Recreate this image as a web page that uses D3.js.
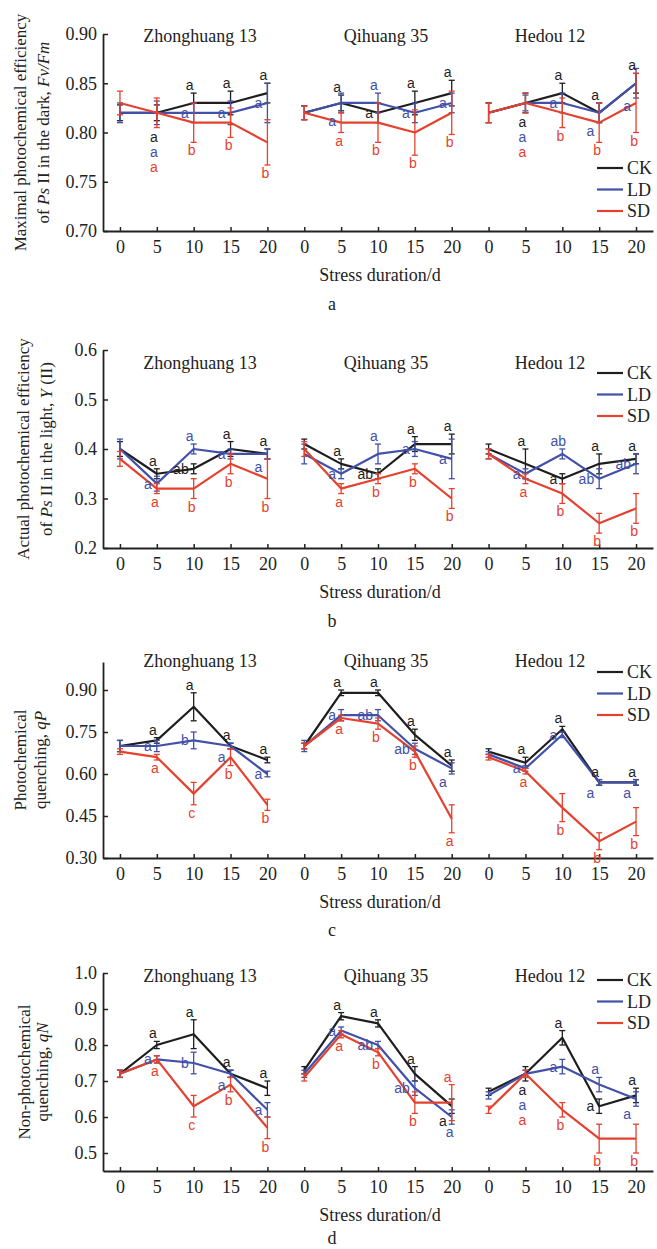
<!DOCTYPE html>
<html>
<head>
<meta charset="utf-8">
<script src="https://cdn.jsdelivr.net/npm/d3@7"></script>
<style>
  body { margin: 0; background: #fff; }
  svg { display: block; }
</style>
</head>
<body>
<div id="chart"></div>
<script>
// ── Categories ──────────────────────────────────
const DAYS = [0, 5, 10, 15, 20];
const VARIETIES = ["Zhonghuang 13", "Qihuang 35", "Hedou 12"];
const TREATMENTS = ["CK", "LD", "SD"];
const PANEL_TAGS = ["a", "b", "c", "d"];

// ── Panel a: Fv/Fm (Zhonghuang | Qihuang | Hedou, 5 days each) ──
const FVFM_CK = [0.82,0.82,0.83,0.83,0.84, 0.82,0.83,0.82,0.83,0.84, 0.82,0.83,0.84,0.82,0.85];
const FVFM_LD = [0.82,0.82,0.82,0.82,0.83, 0.82,0.83,0.83,0.82,0.83, 0.82,0.83,0.83,0.82,0.85];
const FVFM_SD = [0.83,0.82,0.81,0.81,0.79, 0.82,0.81,0.81,0.80,0.82, 0.82,0.83,0.82,0.81,0.83];
const FVFM_CK_ERR = [0.008,0.008,0.01,0.012,0.01, 0.007,0.008,0.01,0.012,0.013, 0.01,0.01,0.01,0.01,0.01];
const FVFM_LD_ERR = [0.01,0.012,0.01,0.012,0.02, 0.007,0.01,0.01,0.01,0.01, 0.01,0.008,0.01,0.01,0.015];
const FVFM_SD_ERR = [0.012,0.015,0.02,0.015,0.023, 0.007,0.01,0.02,0.023,0.022, 0.01,0.01,0.015,0.02,0.03];
const FVFM_CK_SIG = ["","a","a","a","a", "","a","a","a","a", "","a","a","a","a"];
const FVFM_LD_SIG = ["","a","a","a","a", "","a","a","a","a", "","a","a","a","a"];
const FVFM_SD_SIG = ["","a","b","b","b", "","a","b","b","b", "","a","b","b","b"];
const FVFM_DOMAIN = [0.70, 0.90];
const FVFM_TICKS = [0.70, 0.75, 0.80, 0.85, 0.90];

// ── Panel b: Y(II) ──────────────────────────────
const YII_CK = [0.40,0.35,0.36,0.40,0.39, 0.41,0.37,0.35,0.41,0.41, 0.40,0.37,0.34,0.37,0.38];
const YII_LD = [0.40,0.33,0.40,0.39,0.39, 0.39,0.35,0.39,0.40,0.38, 0.39,0.35,0.39,0.34,0.37];
const YII_SD = [0.38,0.32,0.32,0.37,0.34, 0.40,0.32,0.34,0.36,0.30, 0.39,0.34,0.31,0.25,0.28];
const YII_CK_ERR = [0.015,0.01,0.01,0.015,0.01, 0.01,0.01,0.01,0.015,0.02, 0.01,0.03,0.01,0.02,0.01];
const YII_LD_ERR = [0.02,0.015,0.01,0.01,0.01, 0.02,0.01,0.02,0.015,0.04, 0.01,0.01,0.01,0.02,0.02];
const YII_SD_ERR = [0.015,0.01,0.02,0.02,0.04, 0.015,0.01,0.01,0.01,0.02, 0.01,0.01,0.02,0.02,0.03];
const YII_CK_SIG = ["","a","ab","a","a", "","a","ab","a","a", "","a","a","a","a"];
const YII_LD_SIG = ["","a","a","a","a", "","a","a","a","a", "","a","ab","ab","ab"];
const YII_SD_SIG = ["","a","b","b","b", "","a","b","b","b", "","a","b","b","b"];
const YII_DOMAIN = [0.2, 0.6];
const YII_TICKS = [0.2, 0.3, 0.4, 0.5, 0.6];

// ── Panel c: qP ─────────────────────────────────
const QP_CK = [0.70,0.72,0.84,0.70,0.65, 0.70,0.89,0.89,0.74,0.63, 0.68,0.64,0.76,0.57,0.57];
const QP_LD = [0.70,0.70,0.72,0.70,0.60, 0.70,0.81,0.81,0.69,0.62, 0.67,0.62,0.74,0.57,0.57];
const QP_SD = [0.68,0.66,0.53,0.66,0.49, 0.70,0.80,0.78,0.68,0.44, 0.66,0.61,0.48,0.36,0.43];
const QP_CK_ERR = [0.02,0.01,0.05,0.01,0.01, 0.01,0.01,0.01,0.02,0.02, 0.01,0.02,0.01,0.01,0.01];
const QP_LD_ERR = [0.02,0.02,0.03,0.01,0.01, 0.02,0.02,0.02,0.02,0.02, 0.01,0.01,0.01,0.01,0.01];
const QP_SD_ERR = [0.01,0.01,0.04,0.03,0.02, 0.01,0.01,0.02,0.02,0.05, 0.01,0.01,0.05,0.03,0.05];
const QP_CK_SIG = ["","a","a","a","a", "","a","a","a","a", "","a","a","a","a"];
const QP_LD_SIG = ["","a","b","a","a", "","a","ab","ab","a", "","a","a","a","a"];
const QP_SD_SIG = ["","a","c","b","b", "","a","b","b","a", "","a","b","b","b"];
const QP_DOMAIN = [0.30, 1.0];
const QP_TICKS = [0.30, 0.45, 0.60, 0.75, 0.90];

// ── Panel d: qN ─────────────────────────────────
const QN_CK = [0.72,0.80,0.83,0.72,0.68, 0.73,0.88,0.86,0.72,0.63, 0.67,0.72,0.82,0.63,0.66];
const QN_LD = [0.72,0.76,0.75,0.72,0.62, 0.72,0.84,0.80,0.68,0.60, 0.66,0.72,0.74,0.69,0.65];
const QN_SD = [0.72,0.76,0.63,0.69,0.57, 0.71,0.83,0.78,0.64,0.64, 0.62,0.72,0.62,0.54,0.54];
const QN_CK_ERR = [0.01,0.01,0.04,0.01,0.02, 0.01,0.01,0.01,0.02,0.02, 0.01,0.02,0.02,0.02,0.02];
const QN_LD_ERR = [0.01,0.01,0.03,0.01,0.02, 0.01,0.01,0.01,0.02,0.02, 0.01,0.01,0.02,0.02,0.02];
const QN_SD_ERR = [0.01,0.01,0.03,0.02,0.03, 0.01,0.01,0.01,0.03,0.05, 0.01,0.01,0.02,0.04,0.04];
const QN_CK_SIG = ["","a","a","a","a", "","a","a","a","a", "","a","a","a","a"];
const QN_LD_SIG = ["","a","b","a","a", "","a","ab","ab","a", "","a","a","a","a"];
const QN_SD_SIG = ["","a","c","b","b", "","a","b","b","a", "","a","b","b","b"];
const QN_DOMAIN = [0.45, 1.0];
const QN_TICKS = [0.5, 0.6, 0.7, 0.8, 0.9, 1.0];

// ── Axis titles (segments: [text, italic]) ──────
const FVFM_YLABEL = [[["Maximal photochemical efficiency", false]],
                     [["of ", false], ["Ps", true], [" II in the dark, ", false], ["Fv/Fm", true]]];
const YII_YLABEL  = [[["Actual photochemical efficiency", false]],
                     [["of ", false], ["Ps", true], [" II in the light, ", false], ["Y", true], [" (II)", false]]];
const QP_YLABEL   = [[["Photochemical", false]], [["quenching, ", false], ["qP", true]]];
const QN_YLABEL   = [[["Non-photochemical", false]], [["quenching, ", false], ["qN", true]]];
const X_TITLE = "Stress duration/d";

// ── Layout / style ──────────────────────────────
const W = 657, H = 1249;
const SERIF = "'Times New Roman', 'Liberation Serif', serif";
const SANS = "Arial, 'Liberation Sans', sans-serif";
const COLOR = d3.scaleOrdinal().domain(TREATMENTS).range(["#1e1e1e", "#4150a8", "#e4412e"]);
const TITLE_X = [200, 386, 550];

const PANELS = [
  { v: [FVFM_CK, FVFM_LD, FVFM_SD], e: [FVFM_CK_ERR, FVFM_LD_ERR, FVFM_SD_ERR], s: [FVFM_CK_SIG, FVFM_LD_SIG, FVFM_SD_SIG],
    domain: FVFM_DOMAIN, ticks: FVFM_TICKS, fmt: ".2f", ylabel: FVFM_YLABEL,
    top: 34, bottom: 231, titleY: 42, legendY: 168, ylabX: [20, 43], tagY: 310 },
  { v: [YII_CK, YII_LD, YII_SD], e: [YII_CK_ERR, YII_LD_ERR, YII_SD_ERR], s: [YII_CK_SIG, YII_LD_SIG, YII_SD_SIG],
    domain: YII_DOMAIN, ticks: YII_TICKS, fmt: ".1f", ylabel: YII_YLABEL,
    top: 350, bottom: 548, titleY: 369, legendY: 373, ylabX: [23, 46], tagY: 627 },
  { v: [QP_CK, QP_LD, QP_SD], e: [QP_CK_ERR, QP_LD_ERR, QP_SD_ERR], s: [QP_CK_SIG, QP_LD_SIG, QP_SD_SIG],
    domain: QP_DOMAIN, ticks: QP_TICKS, fmt: ".2f", ylabel: QP_YLABEL,
    top: 662, bottom: 858, titleY: 667, legendY: 672, ylabX: [20, 40], tagY: 936 },
  { v: [QN_CK, QN_LD, QN_SD], e: [QN_CK_ERR, QN_LD_ERR, QN_SD_ERR], s: [QN_CK_SIG, QN_LD_SIG, QN_SD_SIG],
    domain: QN_DOMAIN, ticks: QN_TICKS, fmt: ".1f", ylabel: QN_YLABEL,
    top: 973, bottom: 1171, titleY: 982, legendY: 980, ylabX: [24, 42], tagY: 1244 }
];

// shared x scale: 15 positions (3 varieties x 5 days) on one axis
const keys = d3.range(VARIETIES.length * DAYS.length)
  .map(i => VARIETIES[Math.floor(i / DAYS.length)] + "|" + DAYS[i % DAYS.length]);
const x = d3.scalePoint().domain(keys).range([103, 653]).padding(0.46);

const svg = d3.select("#chart").append("svg")
  .attr("width", W).attr("height", H)
  .style("background", "#fff");

PANELS.forEach((p, pi) => drawPanel(p, pi));

function drawPanel(p, pi) {
  const y = d3.scaleLinear().domain(p.domain).range([p.bottom, p.top]);
  const g = svg.append("g");

  // ── Y axis ──
  const yAx = g.append("g")
    .attr("transform", `translate(${x.range()[0]},0)`)
    .call(d3.axisLeft(y).tickValues(p.ticks).tickSize(-5).tickSizeOuter(0)
      .tickPadding(6).tickFormat(d3.format(p.fmt)));
  styleAxis(yAx);

  // ── X axis ──
  const xAx = g.append("g")
    .attr("transform", `translate(0,${p.bottom})`)
    .call(d3.axisBottom(x).tickSize(-4).tickSizeOuter(0).tickPadding(9)
      .tickFormat((d, i) => DAYS[i % DAYS.length]));
  styleAxis(xAx);

  // ── Y axis title ──
  const cy = (p.top + p.bottom) / 2;
  p.ylabel.forEach((line, li) => {
    const t = g.append("text")
      .attr("transform", `translate(${p.ylabX[li]},${cy}) rotate(-90)`)
      .attr("text-anchor", "middle").attr("dominant-baseline", "central")
      .attr("font-family", SERIF).attr("font-size", 17).attr("fill", "#222");
    line.forEach(seg => t.append("tspan")
      .attr("font-style", seg[1] ? "italic" : "normal").text(seg[0]));
  });

  // ── X axis title + panel tag ──
  const mid = (x.range()[0] + x.range()[1]) / 2;
  g.append("text").attr("x", mid + 2).attr("y", p.bottom + 50)
    .attr("text-anchor", "middle").attr("font-family", SERIF)
    .attr("font-size", 18).attr("fill", "#222").text(X_TITLE);
  g.append("text").attr("x", 332).attr("y", p.tagY)
    .attr("text-anchor", "middle").attr("font-family", SERIF)
    .attr("font-size", 18).attr("fill", "#222").text(PANEL_TAGS[pi]);

  // ── Variety titles ──
  VARIETIES.forEach((name, vi) => {
    g.append("text").attr("x", TITLE_X[vi]).attr("y", p.titleY)
      .attr("text-anchor", "middle").attr("font-family", SERIF)
      .attr("font-size", 18).attr("fill", "#222").text(name);
  });

  // ── Lines + error bars ──
  const line = d3.line().x(d => x(d.k)).y(d => y(d.v));
  TREATMENTS.forEach((tr, ti) => {
    const col = COLOR(tr);
    VARIETIES.forEach((vn, vi) => {
      const pts = DAYS.map((dd, di) => {
        const i = vi * DAYS.length + di;
        return { k: keys[i], v: p.v[ti][i], e: p.e[ti][i] };
      });
      const eg = g.append("g").attr("stroke", col).attr("stroke-width", 1.3);
      pts.forEach(d => {
        const cx = x(d.k), y1 = y(d.v + d.e), y2 = y(d.v - d.e);
        eg.append("line").attr("x1", cx).attr("x2", cx).attr("y1", y1).attr("y2", y2);
        eg.append("line").attr("x1", cx - 3).attr("x2", cx + 3).attr("y1", y1).attr("y2", y1);
        eg.append("line").attr("x1", cx - 3).attr("x2", cx + 3).attr("y1", y2).attr("y2", y2);
      });
      g.append("path").datum(pts)
        .attr("fill", "none").attr("stroke", col).attr("stroke-width", 2.2)
        .attr("stroke-linejoin", "round").attr("d", line);
    });
  });

  // ── Significance letters ──
  const put = (d, tx, ty, anchor) => g.append("text")
    .attr("x", tx).attr("y", ty).attr("text-anchor", anchor)
    .attr("font-family", SANS).attr("font-size", 14)
    .attr("fill", COLOR(d.t)).text(d.s);

  keys.forEach((k, i) => {
    if (i % DAYS.length === 0) return;
    const pts = TREATMENTS.map((t, j) => ({ t, j, v: p.v[j][i], e: p.e[j][i], s: p.s[j][i] }));
    const px = x(k);
    const sorted = pts.slice().sort((a, b) => (b.v - a.v) || (a.j - b.j));
    const spread = y(sorted[2].v) - y(sorted[0].v);
    if (spread < 4) {
      // all three coincide: stack the letters under the point
      let ty = y(d3.min(pts, d => d.v - d.e)) + 14;
      pts.forEach(d => { put(d, px - 3, ty, "middle"); ty += 15; });
      return;
    }
    const tieTop = y(sorted[1].v) - y(sorted[0].v) < 4;
    put(sorted[0], px - 4, y(sorted[0].v + sorted[0].e) - 3, "middle");
    if (tieTop) {
      put(sorted[1], px - 5, y(sorted[1].v - sorted[1].e) + 13, "end");
    } else {
      put(sorted[1], px - 5, y(sorted[1].v) + 5, "end");
    }
    put(sorted[2], px - 2, y(sorted[2].v - sorted[2].e) + 13, "middle");
  });

  // ── Legend ──
  TREATMENTS.forEach((tr, ti) => {
    const ly = p.legendY + ti * 21.5;
    g.append("line").attr("x1", 597).attr("x2", 623).attr("y1", ly).attr("y2", ly)
      .attr("stroke", COLOR(tr)).attr("stroke-width", 2.2);
    g.append("text").attr("x", 627).attr("y", ly).attr("dominant-baseline", "central")
      .attr("font-family", SERIF).attr("font-size", 18).attr("fill", "#222").text(tr);
  });
}

function styleAxis(ax) {
  ax.attr("font-family", SERIF).attr("font-size", 18);
  ax.select(".domain").attr("stroke", "#222").attr("stroke-width", 1.8);
  ax.selectAll(".tick line").attr("stroke", "#222").attr("stroke-width", 1.5);
  ax.selectAll(".tick text").attr("fill", "#222");
}
</script>
</body>
</html>
